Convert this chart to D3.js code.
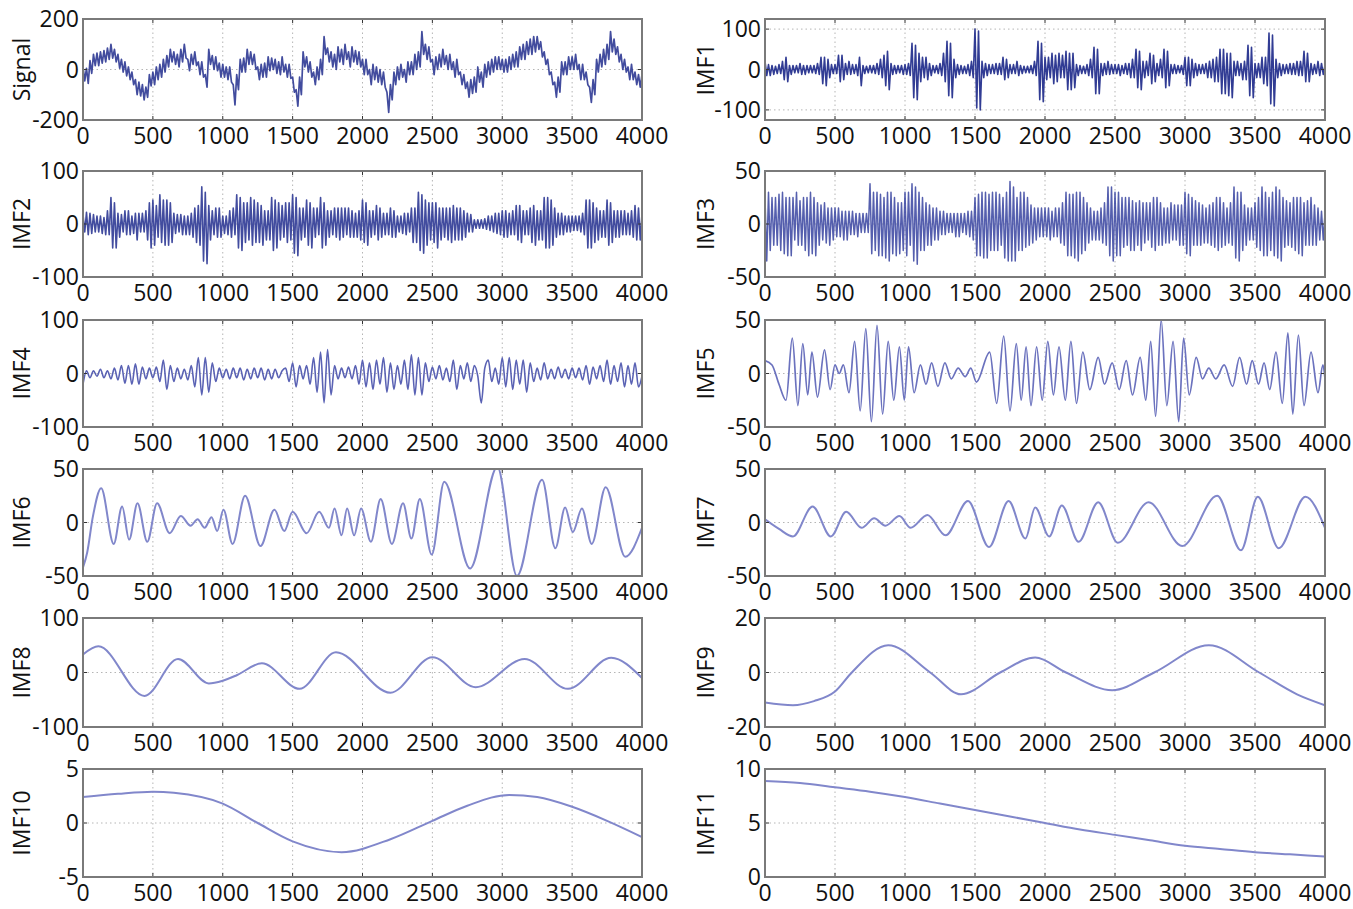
<!DOCTYPE html>
<html><head><meta charset="utf-8">
<script src="https://cdn.jsdelivr.net/npm/d3@7"></script>
<style>body{margin:0;background:#fff} text{font-family:"Open Sans",sans-serif;fill:#111}</style>
</head><body><svg id="c" width="1353" height="909"></svg>
<script>
// ---------- DATA ----------
const xTicks = [0,500,1000,1500,2000,2500,3000,3500,4000];
const sampleStep = 25; // spacing of the read samples for the noisy series

// noisy series: one reading per 25 samples, plus the opposite extreme of the band at the same place
const signalVals = [10,-55,35,15,65,25,75,40,100,30, 60,-10,30,-40,-10,-100,-50,-120,-70,-20,
 -60,10,-30,40,10,80,20,60,30,100, 40,20,70,-20,30,-70,80,0,50,-30,
 20,-40,10,-140,-20,40,-10,80,20,60, -40,20,-30,50,0,40,-20,50,-30,20,
 -90,-145,-30,70,-10,30,-60,10,-20,130, 30,70,0,90,20,100,10,90,20,70,
 -20,40,-60,20,-50,0,-70,-170,-60,-10, -40,20,-50,30,-20,60,10,150,40,90,
 -20,50,10,80,0,60,-30,40,-60,-20, -110,-40,-90,10,-70,20,-20,40,0,50,
 -10,40,0,60,10,90,40,110,60,130, 80,110,20,40,-60,-110,-30,30,-20,50,
 0,60,-40,20,-60,-130,-40,40,10,80, 40,150,60,90,0,40,-40,20,-60,-20, -70];
const signalOpp = [-45,5,-15,60,15,70,30,85,45,80, 5,40,-25,10,-60,-40,-105,-60,-110,-65,
 -10,-40,20,-10,55,30,70,10,80,45, -5,60,15,30,-30,-20,20,55,-5,25,
 -30,10,-50,-60,-80,-10,45,20,70,0, 10,-30,25,-5,45,-15,30,-10,20,-35,
 -30,-80,-100,10,50,-30,-10,-40,40,60, 85,10,60,30,80,40,70,30,75,10,
 40,-20,0,-40,10,-60,-10,-90,-120,-60, 10,-30,0,-20,30,0,70,60,100,30,
 40,0,60,20,55,0,30,-20,-10,-75, -50,-95,-30,-50,-10,-30,30,-10,50,0,
 40,-10,50,10,70,40,100,60,120,70, 130,50,70,-20,-10,-50,-90,-20,30,0,
 50,0,20,-40,-10,-70,-100,-10,60,20, 100,70,120,30,60,-10,10,-40,-10,-70, -20];

const imf1Vals = [20,-15,10,-10,12,-25,30,-12,10,-8, 15,-12,10,-8,10,-12,30,-40,25,-10,
 12,-30,35,-12,20,-10,12,-40,10,-8, 10,-10,15,-20,35,-50,15,-10,10,-12,
 12,-15,65,-75,40,-20,30,-15,10,-10, 15,-30,70,-70,25,-12,10,-10,12,-20,
 100,-100,20,-15,12,-10,15,-12,30,-20, 12,-10,20,-10,8,-8,10,-15,70,-80,
 30,-20,40,-30,40,-20,45,-50,40,-15, 10,-10,12,-20,55,-60,15,-12,20,-10,
 12,-15,10,-12,15,-20,50,-50,20,-15, 40,-30,15,-20,50,-40,12,-10,10,-12,
 30,-40,25,-15,12,-10,15,-20,25,-30, 50,-60,40,-70,20,-15,15,-25,60,-70,
 15,-20,30,-40,90,-90,25,-15,12,-10, 15,-12,20,-15,45,-30,15,-10,20,-12, 10];
const imf1Opp = [-15,12,-12,8,-10,20,-30,10,-8,10, -12,10,-8,10,-10,15,-35,30,-20,12,
 -10,35,-25,15,-12,12,-15,30,-10,8, -8,10,-12,25,-40,45,-12,10,-8,10,
 -12,15,-70,60,-30,30,-25,15,-8,10, -15,40,-65,65,-20,12,-10,8,-15,20,
 -95,95,-20,15,-10,12,-12,15,-25,25, -10,12,-15,10,-8,8,-10,20,-75,65,
 -25,30,-35,35,-20,35,-50,40,-45,12, -10,8,-15,25,-60,50,-15,15,-12,12,
 -10,12,-10,15,-20,25,-45,45,-20,20, -35,35,-15,25,-45,45,-10,12,-8,10,
 -40,30,-20,15,-10,12,-20,20,-30,30, -60,50,-65,40,-15,20,-25,20,-65,55,
 -20,15,-35,30,-85,85,-20,15,-10,12, -12,15,-15,20,-30,40,-12,12,-15,15, -10];

const imf2Vals = [18,-20,20,-15,15,-18,12,-20,50,-45, 20,-15,25,-20,15,-30,20,-15,25,-45,
 45,-25,55,-40,45,-35,20,-15,18,-20, 15,-25,30,-40,70,-75,35,-20,30,-25,
 15,-20,25,-20,55,-50,40,-30,50,-35, 40,-40,25,-30,50,-45,40,-25,40,-30,
 55,-60,30,-25,45,-45,30,-20,50,-40, 25,-20,30,-30,30,-20,30,-25,20,-30,
 45,-40,25,-20,35,-25,20,-20,30,-25, 15,-18,20,-15,30,-35,60,-55,45,-30,
 40,-45,30,-25,30,-35,35,-30,30,-25, 20,-15,8,-8,8,-10,15,-15,20,-20,
 25,-25,20,-20,35,-35,25,-20,30,-40, 25,-30,50,-45,45,-25,20,-20,15,-15,
 15,-12,15,-20,45,-45,40,-30,25,-25, 45,-35,25,-25,25,-20,20,-25,35,-30, 20];
const imf2Opp = [-15,22,-18,18,-15,15,-20,25,-45,40, -25,18,-20,25,-18,20,-15,20,-30,40,
 -40,35,-35,45,-40,40,-18,18,-20,15, -20,20,-35,35,-70,60,-30,25,-25,30,
 -18,15,-25,30,-45,50,-35,40,-40,45, -35,35,-30,25,-50,45,-30,35,-35,40,
 -55,50,-30,30,-40,40,-25,30,-45,40, -25,25,-25,30,-25,30,-25,25,-25,25,
 -35,40,-25,25,-30,30,-20,20,-25,25, -15,15,-20,20,-35,30,-50,55,-40,40,
 -35,40,-30,30,-30,30,-30,30,-30,25, -15,18,-8,8,-8,10,-12,15,-18,20,
 -25,25,-20,25,-30,35,-20,25,-35,35, -30,25,-45,50,-40,30,-20,20,-15,15,
 -12,15,-15,20,-45,45,-35,30,-25,25, -40,40,-25,25,-20,25,-20,25,-30,30, -20];

const imf3Vals = [-35,30,-20,25,-25,30,-30,25,-15,30, -20,25,-30,30,-30,20,-15,20,-20,15,
 -12,15,-15,12,-10,12,-12,10,-8,10, 38,-25,30,-30,25,-35,30,-30,20,-25,
 30,-20,38,-38,30,-25,20,-20,15,-15, 12,-10,10,-8,10,-12,10,-10,12,-15,
 25,-30,30,-32,28,-25,30,-20,25,-35, 40,-35,25,-25,30,-20,18,-15,15,-12,
 15,-15,12,-12,15,-20,30,-30,28,-35, 30,-25,20,-15,12,-15,15,-20,35,-35,
 30,-30,25,-20,25,-25,20,-25,20,-15, 20,-25,25,-20,15,-18,20,-15,18,-20,
 30,-30,25,-20,20,-18,15,-20,20,-25, 25,-20,15,-20,35,-35,30,-20,15,-15,
 20,-25,35,-30,25,-30,35,-35,25,-20, 20,-25,25,-30,20,-20,25,-20,15,-15, 10];
const imf3Opp = [25,-25,25,-20,28,-28,25,-30,25,-20, 22,-25,25,-28,25,-20,18,-18,15,-15,
 15,-12,12,-15,12,-10,10,-8,10,-8, -28,30,-30,28,-32,30,-28,25,-28,20,
 -30,30,-35,35,-25,25,-20,18,-15,15, -10,12,-8,10,-12,10,-8,10,-12,12,
 -30,28,-32,30,-25,30,-25,28,-32,30, -35,35,-25,30,-22,25,-18,15,-12,15,
 -12,15,-12,15,-18,20,-30,28,-32,30, -28,25,-18,15,-15,12,-18,20,-30,35,
 -30,30,-22,25,-25,22,-20,22,-18,20, -22,25,-20,20,-18,15,-15,18,-20,18,
 -28,28,-20,22,-20,18,-18,18,-22,25, -22,20,-18,20,-32,30,-25,18,-15,15,
 -22,25,-30,30,-25,30,-32,32,-22,22, -22,25,-28,25,-20,22,-20,18,-15,12, -10];

const imf4Vals = [-20,5,-8,5,-5,8,-8,5,-10,10, -12,15,-18,15,-20,18,-20,12,-10,10,
 -8,12,-15,25,-30,15,-15,10,-10,8, -12,15,-25,30,-40,30,-35,20,-15,10,
 -8,8,-10,10,-8,10,-12,8,-10,10, -8,10,-12,8,-10,8,-8,5,10,-15,
 20,-25,15,-10,15,-20,30,-35,40,-55, 45,-40,15,-10,10,-8,12,-10,15,-20,
 25,-25,20,-30,25,-20,30,-35,20,-30, 15,-20,25,-30,35,-40,30,-40,20,-15,
 12,-10,15,-12,10,-15,25,-30,15,-10, 20,-15,15,-5,-55,10,25,-15,10,-20,
 30,-25,30,-30,25,-20,25,-35,20,-15, 10,-12,20,-10,8,-10,12,-8,8,-10,
 10,-8,10,-12,15,-20,12,-10,15,-15, 25,-20,15,-15,20,-25,15,-20,20,-25, -5];

// smooth components: [sample, value] readings of turning points
const imf5Pts = [[0,12],[50,8],[100,-10],[150,-25],[195,33],[235,-30],[270,28],[305,-20],[335,20],[375,-22],[425,22],[465,-15],[500,8],[530,0],[560,8],[600,-18],[640,30],[680,-35],[720,42],[760,-45],[800,45],[840,-38],[880,30],[920,-25],[960,25],[995,-25],[1025,25],[1065,-18],[1110,8],[1150,-10],[1190,10],[1235,-12],[1285,10],[1330,-5],[1380,5],[1430,-3],[1470,5],[1510,-8],[1605,20],[1655,-28],[1705,35],[1750,-35],[1795,28],[1830,-25],[1865,25],[1900,-30],[1940,25],[1980,-25],[2020,30],[2060,-20],[2100,25],[2145,-25],[2185,30],[2225,-28],[2270,20],[2320,-15],[2380,15],[2425,-10],[2480,10],[2530,-15],[2580,12],[2625,-20],[2680,15],[2720,-25],[2755,30],[2790,-40],[2830,50],[2870,-30],[2915,30],[2955,-45],[2990,33],[3030,-20],[3080,15],[3125,-5],[3170,5],[3220,-5],[3280,8],[3340,-12],[3390,15],[3440,-10],[3480,12],[3525,-10],[3565,10],[3605,-15],[3650,20],[3695,-28],[3735,38],[3770,-38],[3810,36],[3850,-30],[3900,20],[3950,-18],[3985,8],[4000,-5]];
const imf6Pts = [[0,-42],[30,-28],[70,5],[130,32],[220,-20],[280,15],[330,-16],[390,18],[460,-18],[530,18],[620,-10],[700,6],[770,-3],[820,3],[870,-5],[920,5],[960,-8],[1005,12],[1070,-20],[1160,25],[1270,-22],[1370,12],[1440,-8],[1500,10],[1600,-10],[1690,10],[1760,-5],[1800,13],[1850,-12],[1890,13],[1940,-12],[1990,13],[2060,-18],[2130,22],[2210,-20],[2290,18],[2350,-15],[2410,22],[2495,-30],[2585,38],[2770,-43],[2965,52],[3105,-50],[3285,40],[3380,-24],[3450,14],[3505,-9],[3570,13],[3640,-20],[3740,33],[3880,-32],[4000,-5]];
const imf7Pts = [[0,3],[100,-6],[200,-13],[340,15],[470,-13],[580,10],[690,-5],[780,4],[860,-3],[960,6],[1040,-5],[1160,7],[1290,-12],[1450,20],[1600,-23],[1740,20],[1860,-15],[1930,14],[2030,-13],[2120,16],[2240,-18],[2380,19],[2520,-19],[2740,19],[2980,-22],[3230,25],[3400,-26],[3520,24],[3670,-24],[3860,24],[4000,-5]];
const imf8Pts = [[0,33],[110,48],[440,-43],[680,25],[900,-20],[1000,-15],[1100,-5],[1280,17],[1550,-30],[1810,37],[2200,-37],[2500,28],[2810,-27],[3160,25],[3470,-30],[3780,27],[4000,-10]];
const imf9Pts = [[0,-11],[200,-12],[350,-10.5],[500,-7],[620,0],[880,10],[1180,0],[1400,-8],[1680,0],[1930,5.5],[2150,0],[2480,-6.5],[2780,0],[3170,10],[3530,0],[3800,-8],[4000,-12]];
const imf10Pts = [[0,2.4],[250,2.7],[500,2.9],[650,2.8],[1000,1.8],[1250,0],[1500,-1.7],[1850,-2.7],[2200,-1.5],[2500,0.2],[2750,1.6],[3050,2.6],[3250,2.4],[3500,1.5],[3750,0.2],[4000,-1.3]];
const imf11Pts = [[0,8.9],[250,8.7],[500,8.3],[750,7.9],[1000,7.4],[1250,6.8],[1500,6.2],[1750,5.6],[2000,5.0],[2250,4.4],[2500,3.9],[2750,3.4],[3000,2.9],[3250,2.6],[3500,2.3],[3750,2.1],[4000,1.9]];

const names = ["Signal","IMF1","IMF2","IMF3","IMF4","IMF5","IMF6","IMF7","IMF8","IMF9","IMF10","IMF11"];
const yDomains = [[-200,200],[-125,125],[-100,100],[-50,50],[-100,100],[-50,50],[-50,50],[-50,50],[-100,100],[-20,20],[-5,5],[0,10]];
const yTicks = [[-200,0,200],[-100,0,100],[-100,0,100],[-50,0,50],[-100,0,100],[-50,0,50],[-50,0,50],[-50,0,50],[-100,0,100],[-20,0,20],[-5,0,5],[0,5,10]];

// band series: at each read position draw the upper extreme, then the lower one half a step later
const band = (vals, opp) => vals.flatMap((v,i)=>[[i*sampleStep, Math.max(v,opp[i])],[i*sampleStep+sampleStep/2, Math.min(v,opp[i])]]).filter(p=>p[0]<=4000);
const toPts = vals => vals.map((v,i)=>[i*sampleStep, v]);
const series = [band(signalVals,signalOpp),band(imf1Vals,imf1Opp),band(imf2Vals,imf2Opp),band(imf3Vals,imf3Opp),toPts(imf4Vals),
  imf5Pts,imf6Pts,imf7Pts,imf8Pts,imf9Pts,imf10Pts,imf11Pts];

// ---------- LAYOUT / STYLE ----------
const colX = [[83,642],[765,1325]];
const rowY = [[19,120],[171,277],[320,427],[469,576],[618,727],[769,877]];
const styles = [
  {c:"#2d3994",w:1.7,o:0.9,curve:d3.curveLinear},
  {c:"#26328e",w:1.6,o:0.95,curve:d3.curveLinear},
  {c:"#2d3995",w:1.6,o:0.9,curve:d3.curveLinear},
  {c:"#3743a0",w:1.5,o:0.85,curve:d3.curveLinear},
  {c:"#5a62b4",w:1.6,o:1,curve:d3.curveMonotoneX},
  {c:"#6b72be",w:1.7,o:1,curve:d3.curveMonotoneX},
  {c:"#8187cb",w:2,o:1,curve:d3.curveMonotoneX},
  {c:"#8187cb",w:2,o:1,curve:d3.curveMonotoneX},
  {c:"#8187cb",w:2,o:1,curve:d3.curveMonotoneX},
  {c:"#8187cb",w:2,o:1,curve:d3.curveMonotoneX},
  {c:"#8187cb",w:2,o:1,curve:d3.curveMonotoneX},
  {c:"#8187cb",w:2,o:1,curve:d3.curveMonotoneX}
];

const svg = d3.select("#c");
const FS = 23;

names.forEach((name,k)=>{
  const r = Math.floor(k/2), cI = k%2;
  const [x0,x1] = colX[cI], [y0,y1] = rowY[r];
  const x = d3.scaleLinear().domain([0,4000]).range([x0,x1]);
  const y = d3.scaleLinear().domain(yDomains[k]).range([y1,y0]);
  const g = svg.append("g");
  const cid = "clip"+k;
  svg.append("clipPath").attr("id",cid).append("rect").attr("x",x0).attr("y",y0).attr("width",x1-x0).attr("height",y1-y0);

  // grid
  g.selectAll(".vg").data(xTicks.slice(1,-1)).join("line")
    .attr("x1",d=>x(d)).attr("x2",d=>x(d)).attr("y1",y0).attr("y2",y1)
    .attr("stroke","#b5b5b5").attr("stroke-width",1).attr("stroke-dasharray","1.5,3");
  g.selectAll(".hg").data(yTicks[k].filter(t=>y(t)>y0+1 && y(t)<y1-1)).join("line")
    .attr("x1",x0).attr("x2",x1).attr("y1",d=>y(d)).attr("y2",d=>y(d))
    .attr("stroke","#b5b5b5").attr("stroke-width",1).attr("stroke-dasharray","1.5,3");

  // data line
  const st = styles[k];
  g.append("path").datum(series[k])
    .attr("clip-path",`url(#${cid})`)
    .attr("fill","none").attr("stroke",st.c).attr("stroke-width",st.w).attr("stroke-opacity",st.o).attr("stroke-linejoin","round")
    .attr("d",d3.line().x(d=>x(d[0])).y(d=>y(d[1])).curve(st.curve));

  // ticks inside box
  g.selectAll(".tb").data(xTicks).join("line").attr("x1",d=>x(d)).attr("x2",d=>x(d)).attr("y1",y1).attr("y2",y1-4).attr("stroke","#333");
  g.selectAll(".tt").data(xTicks).join("line").attr("x1",d=>x(d)).attr("x2",d=>x(d)).attr("y1",y0).attr("y2",y0+4).attr("stroke","#333");
  g.selectAll(".tl").data(yTicks[k]).join("line").attr("x1",x0).attr("x2",x0+4).attr("y1",d=>y(d)).attr("y2",d=>y(d)).attr("stroke","#333");
  g.selectAll(".tr").data(yTicks[k]).join("line").attr("x1",x1).attr("x2",x1-4).attr("y1",d=>y(d)).attr("y2",d=>y(d)).attr("stroke","#333");

  // box
  g.append("rect").attr("x",x0).attr("y",y0).attr("width",x1-x0).attr("height",y1-y0)
    .attr("fill","none").attr("stroke","#7a7a7a").attr("stroke-width",2);

  // x tick labels
  g.selectAll(".xl").data(xTicks).join("text")
    .attr("x",d=>x(d)).attr("y",y1+24).attr("text-anchor","middle").attr("font-size",FS).text(d=>d);
  // y tick labels
  g.selectAll(".yl").data(yTicks[k]).join("text")
    .attr("x",x0-4).attr("y",d=>y(d)+8).attr("text-anchor","end").attr("font-size",FS).text(d=>d);
  // y title
  const tx = cI===0 ? 22 : 706;
  g.append("text").attr("transform",`translate(${tx},${(y0+y1)/2}) rotate(-90)`)
    .attr("text-anchor","middle").attr("dy","0.35em").attr("font-size",FS).text(name);
});
</script></body></html>
